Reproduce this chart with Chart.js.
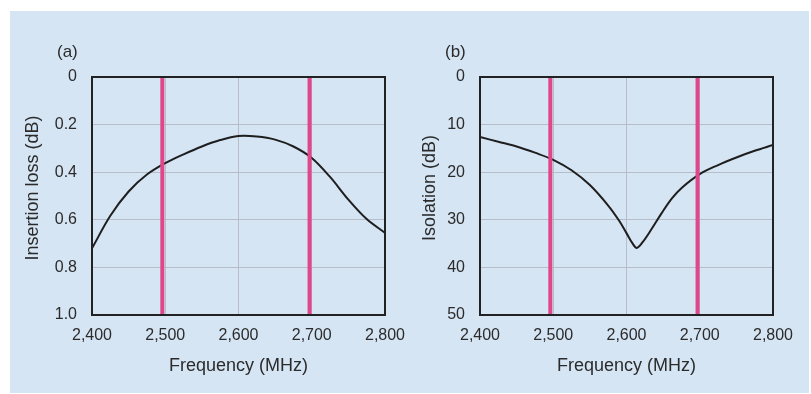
<!DOCTYPE html>
<html>
<head>
<meta charset="utf-8">
<script src="https://cdn.jsdelivr.net/npm/chart.js@4.4.1/dist/chart.umd.min.js"></script>
<style>
  body { margin: 0; background: #fff; width: 811px; height: 394px; overflow: hidden; position: relative; }
  #panel { position: absolute; left: 10px; top: 11px; width: 799px; height: 382px; background: #d5e5f4; }
  canvas { position: absolute; top: 0; }
  #chartA { left: 0; }
  #chartB { left: 405px; }
</style>
</head>
<body>
<div id="panel"></div>
<canvas id="chartA" width="405" height="394"></canvas>
<canvas id="chartB" width="406" height="394"></canvas>
<script>
// --- data ---
const freqTicks = [2400, 2500, 2600, 2700, 2800];
const bandEdges = [2496, 2697];   // pink markers (MHz)

// (a) insertion loss
const freqA = [2400, 2425, 2450, 2475, 2500, 2525, 2550, 2575, 2600, 2625, 2650, 2675, 2700, 2725, 2750, 2775, 2800];
const lossA = [0.72, 0.583, 0.481, 0.41, 0.362, 0.325, 0.292, 0.265, 0.248, 0.25, 0.263, 0.292, 0.34, 0.42, 0.515, 0.597, 0.655];
const lossTicks = [0, 0.2, 0.4, 0.6, 0.8, 1.0];

// (b) isolation
const freqB = [2400, 2425, 2450, 2475, 2500, 2525, 2550, 2575, 2590, 2600, 2608, 2614, 2622, 2634, 2648, 2662, 2676, 2700, 2725, 2750, 2775, 2800];
const isoB  = [12.6, 13.6, 14.6, 15.9, 17.4, 19.6, 22.7, 27.0, 30.2, 32.8, 34.9, 35.9, 34.7, 32.0, 28.6, 25.5, 23.2, 20.4, 18.5, 16.9, 15.5, 14.3];
const isoTicks = [0, 10, 20, 30, 40, 50];

const TEXT = "#2b2b2b";
const GRID = "#b7bdc8";
const PINK = "#e0468a";
const FONT = "'Liberation Sans', Arial, sans-serif";

// frame round the plot area, the (a)/(b) tag and the y title
const framePlugin = {
  id: "frame",
  afterDatasetsDraw(chart) {
    const { ctx, chartArea: a } = chart;
    ctx.save();
    ctx.strokeStyle = "#222";
    ctx.lineWidth = 2;
    ctx.strokeRect(a.left, a.top, a.right - a.left, a.bottom - a.top);
    ctx.restore();
  },
  afterDraw(chart, args, opts) {
    const { ctx, chartArea: a } = chart;
    ctx.save();
    ctx.fillStyle = TEXT;
    ctx.font = "17px " + FONT;
    ctx.textBaseline = "middle";
    ctx.fillText(opts.tag, a.left - 35, 52);

    // y title, sits a little above the middle of the plot in the original
    ctx.font = "18px " + FONT;
    ctx.textAlign = "center";
    ctx.translate(opts.titleX, 188);
    ctx.rotate(-Math.PI / 2);
    ctx.fillText(opts.yTitle, 0, 0);
    ctx.restore();
  }
};

function makePanel(id, tag, xs, ys, ticks, yTitle, leftW, rightPad, titleX, fmt) {
  const yMin = ticks[0], yMax = ticks[ticks.length - 1];
  const curve = xs.map((x, i) => ({ x, y: ys[i] }));
  const markers = bandEdges.map(f => ({
    data: [{ x: f, y: yMin }, { x: f, y: yMax }],
    borderColor: PINK,
    borderWidth: 4,
    pointRadius: 0,
    order: 0
  }));

  return new Chart(document.getElementById(id), {
    type: "line",
    data: {
      datasets: [
        ...markers,
        {
          data: curve,
          borderColor: "#1e1e1e",
          borderWidth: 2,
          pointRadius: 0,
          tension: 0.35,
          order: 1
        }
      ]
    },
    options: {
      responsive: false,
      animation: false,
      layout: { padding: { top: 77, right: rightPad, left: 0, bottom: 0 } },
      plugins: {
        legend: { display: false },
        tooltip: { enabled: false },
        frame: { tag, yTitle, titleX }
      },
      scales: {
        x: {
          type: "linear",
          min: freqTicks[0],
          max: freqTicks[freqTicks.length - 1],
          afterBuildTicks: s => { s.ticks = freqTicks.map(v => ({ value: v })); },
          afterFit: s => { s.height = 79; s.paddingLeft = 0; s.paddingRight = 0; },
          ticks: {
            color: TEXT,
            font: { family: FONT, size: 16 },
            padding: 11,
            maxRotation: 0,
            callback: v => Number(v).toLocaleString("en-US")
          },
          grid: { color: GRID, drawTicks: false },
          border: { display: false },
          title: {
            display: true,
            text: "Frequency (MHz)",
            color: TEXT,
            font: { family: FONT, size: 18 },
            padding: { top: 0, bottom: 17 }
          }
        },
        y: {
          type: "linear",
          reverse: true,
          min: yMin,
          max: yMax,
          afterBuildTicks: s => { s.ticks = ticks.map(v => ({ value: v })); },
          afterFit: s => { s.width = leftW; s.paddingTop = 0; s.paddingBottom = 0; },
          ticks: {
            color: TEXT,
            font: { family: FONT, size: 16 },
            padding: 15,
            callback: fmt
          },
          grid: { color: GRID, drawTicks: false },
          border: { display: false }
        }
      }
    },
    plugins: [framePlugin]
  });
}

makePanel("chartA", "(a)", freqA, lossA, lossTicks, "Insertion loss (dB)", 92, 20, 33,
  v => (v === 0 ? "0" : Number(v).toFixed(1)));
makePanel("chartB", "(b)", freqB, isoB, isoTicks, "Isolation (dB)", 75, 38, 25,
  v => String(v));
</script>
</body>
</html>
